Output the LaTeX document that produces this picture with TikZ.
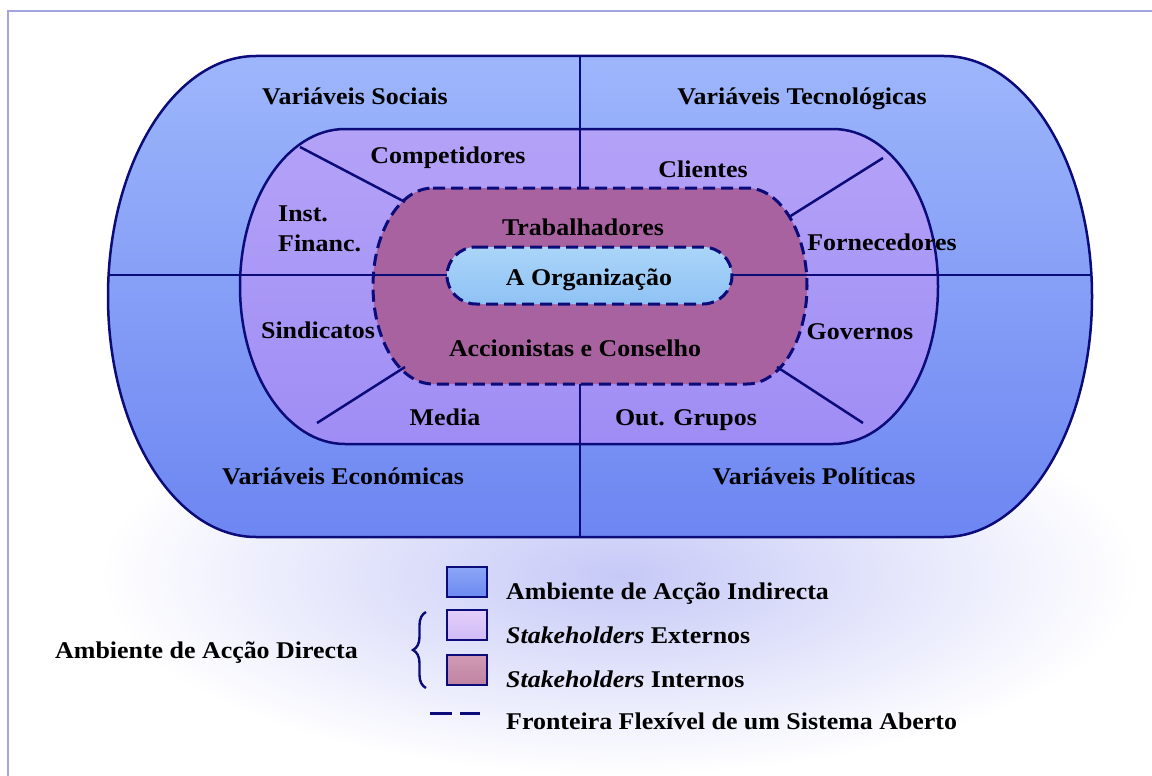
\documentclass[tikz,border=0pt]{standalone}
\usepackage{fontspec}
\setmainfont{Liberation Serif}[FakeStretch=1.08]
\usetikzlibrary{positioning, decorations.pathreplacing}

\definecolor{navy}{HTML}{0B0B7A}
\definecolor{framecol}{HTML}{A4A4DE}
\definecolor{glow}{HTML}{C6C9F7}
\definecolor{outtop}{HTML}{9DB6FB}
\definecolor{outbot}{HTML}{6D86F2}
\definecolor{intop}{HTML}{B4A2F8}
\definecolor{inbot}{HTML}{9F8DF5}
\definecolor{mauve}{HTML}{A8629F}
\definecolor{orgtop}{HTML}{AAD5F8}
\definecolor{orgbot}{HTML}{8FC2F5}
\definecolor{sqbluet}{HTML}{8CA6F7}
\definecolor{sqblueb}{HTML}{6C8AF1}
\definecolor{sqextt}{HTML}{E3CEF9}
\definecolor{sqextb}{HTML}{D0BCF6}
\definecolor{sqintt}{HTML}{D29BB5}
\definecolor{sqintb}{HTML}{BE83A0}

% oval ring: left, right, top, bottom, x radius, y radius
\newcommand{\ovalpath}[6]{(#1+#5,#3) -- (#2-#5,#3) arc[start angle=90, end angle=-90, x radius=#5pt, y radius=#6pt] -- (#1+#5,#4) arc[start angle=270, end angle=90, x radius=#5pt, y radius=#6pt] -- cycle}

\begin{document}
\begin{tikzpicture}[x=1pt, y=-1pt,
    lbl/.style={font=\fontsize{24}{30}\selectfont\bfseries, inner sep=0pt, anchor=base},
    rim/.style={draw=navy, line width=2.5pt},
    spoke/.style={navy, line width=2.5pt},
    border/.style={draw=navy, line width=3pt, dash pattern=on 12pt off 6pt},
    legendsq/.style={draw=navy, line width=1.6pt, minimum width=40pt, minimum height=30pt, inner sep=0pt}]

    \useasboundingbox (0,0) rectangle (1152,776);
    \fill[white] (0,0) rectangle (1152,776);
    \shade[inner color=glow, outer color=white] (620,575) ellipse [x radius=520pt, y radius=200pt];
    \draw[framecol, line width=1.5pt] (1160,11) -- (8,11) -- (8,790);

    % rings
    \shade[top color=outtop, bottom color=outbot] \ovalpath{108}{1092}{56}{537}{148}{240.5};
    \shade[top color=intop, bottom color=inbot] \ovalpath{240}{938}{129}{444}{105}{157.5};
    \fill[mauve] \ovalpath{373}{807}{188}{384}{60}{98};
    \shade[top color=orgtop, bottom color=orgbot] \ovalpath{447}{732}{247}{304}{29}{28.5};

    % dividers
    \coordinate (hL) at (109,275);
    \coordinate (hOrgL) at (447,275);
    \coordinate (hOrgR) at (732,275);
    \coordinate (hR) at (1091,275);
    \coordinate (vT) at (580,56);
    \coordinate (vIntT) at (580,188);
    \coordinate (vIntB) at (580,384);
    \coordinate (vB) at (580,537);
    \draw[spoke] (hL) -- (hOrgL);
    \draw[spoke] (hOrgR) -- (hR);
    \draw[spoke] (vT) -- (vIntT);
    \draw[spoke] (vIntB) -- (vB);

    \coordinate (spNWo) at (300,147);
    \coordinate (spNWi) at (405,202);
    \coordinate (spNEo) at (883,158);
    \coordinate (spNEi) at (789,217);
    \coordinate (spSWo) at (317,423);
    \coordinate (spSWi) at (405,367);
    \coordinate (spSEo) at (863,423);
    \coordinate (spSEi) at (777,367);
    \draw[spoke] (spNWo) -- (spNWi);
    \draw[spoke] (spNEo) -- (spNEi);
    \draw[spoke] (spSWo) -- (spSWi);
    \draw[spoke] (spSEo) -- (spSEi);

    \draw[rim] \ovalpath{108}{1092}{56}{537}{148}{240.5};
    \draw[rim] \ovalpath{240}{938}{129}{444}{105}{157.5};
    \draw[border] \ovalpath{373}{807}{188}{384}{60}{98};
    \draw[border] \ovalpath{447}{732}{247}{304}{29}{28.5};

    % labels
    \node[lbl] (vsoc) at (355,104) {Variáveis Sociais};
    \node[lbl] (vtec) at (802,104) {Variáveis Tecnológicas};
    \node[lbl] (comp) at (448,163) {Competidores};
    \node[lbl] (cli) at (703,177) {Clientes};
    \node[lbl, anchor=base west] (inst) at (278,221) {Inst.};
    \node[lbl, anchor=base west] (financ) at ([yshift=-30pt]inst.base west) {Financ.};
    \node[lbl] (trab) at (583,235) {Trabalhadores};
    \node[lbl] (forn) at (882,250) {Fornecedores};
    \node[lbl] (org) at (589,285) {A Organização};
    \node[lbl] (sind) at (318,338) {Sindicatos};
    \node[lbl] (gov) at (860,339) {Governos};
    \node[lbl] (accion) at (575,356) {Accionistas e Conselho};
    \node[lbl] (media) at (445,425) {Media};
    \node[lbl] (outg) at (686,425) {Out. Grupos};
    \node[lbl] (veco) at (343,484) {Variáveis Económicas};
    \node[lbl] (vpol) at (814,484) {Variáveis Políticas};

    % legend
    \node[legendsq, top color=sqbluet, bottom color=sqblueb] (sqInd) at (467,582) {};
    \node[legendsq, top color=sqextt, bottom color=sqextb] (sqExt) at (467,625) {};
    \node[legendsq, top color=sqintt, bottom color=sqintb] (sqInt) at (467,670) {};
    \coordinate (dashL) at (430,713);
    \coordinate (dashR) at (480,713);
    \draw[navy, line width=3pt, dash pattern=on 22pt off 8pt] (dashL) -- (dashR);
    \coordinate (brB) at (426,688);
    \coordinate (brT) at (426,612);
    \draw[navy, line width=2.4pt, decorate, decoration={brace, amplitude=13pt}] (brB) -- (brT);

    \node[lbl, anchor=base west] (txInd) at (506,599) {Ambiente de Acção Indirecta};
    \node[lbl, anchor=base west] (txExt) at (506,643) {\textit{Stakeholders} Externos};
    \node[lbl, anchor=base west] (txInt) at (506,687) {\textit{Stakeholders} Internos};
    \node[lbl, anchor=base west] (txBord) at (506,729) {Fronteira Flexível de um Sistema Aberto};
    \node[lbl, anchor=base west] (txDir) at (55,658) {Ambiente de Acção Directa};
\end{tikzpicture}
\end{document}
